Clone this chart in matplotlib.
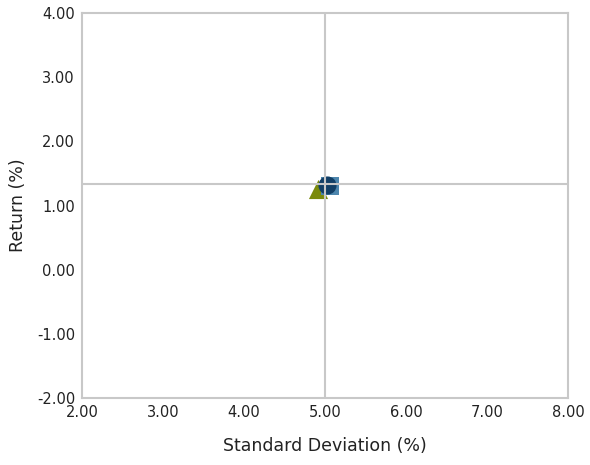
import matplotlib.pyplot as plt
import numpy as np

# crosshair (mean std dev / mean return)
cross_x = 5.00
cross_y = 1.33

# portfolio points
names = ["Square", "Circle", "Triangle"]
std_dev = [5.06, 5.02, 4.91]
returns = [1.30, 1.32, 1.26]
markers = ["s", "o", "^"]
colors = ["#4d86ad", "#123f66", "#7b8a0b"]
sizes = [160, 170, 190]

xticks = [2, 3, 4, 5, 6, 7, 8]
yticks = [-2, -1, 0, 1, 2, 3, 4]

plt.rcParams['font.family'] = ['DejaVu Sans']

fig = plt.figure(figsize=(5.9, 4.65), dpi=100)
ax = fig.add_axes([82 / 590, 67 / 465, 486 / 590, 385 / 465])

ax.axvline(cross_x, color="#c8c8c8", lw=1.5, zorder=6)
ax.axhline(cross_y, color="#c8c8c8", lw=1.5, zorder=6)

zorders = [3, 4, 2]
for i in range(len(names)):
    ax.scatter(std_dev[i], returns[i], marker=markers[i], s=sizes[i],
               color=colors[i], linewidths=0, zorder=zorders[i])

ax.set_xlim(2, 8)
ax.set_ylim(-2, 4)
ax.set_xticks(xticks)
ax.set_yticks(yticks)
ax.set_xticklabels([f"{v:.2f}" for v in xticks])
ax.set_yticklabels([f"{v:.2f}" for v in yticks])
ax.tick_params(length=0, labelsize=10.5, colors="#222222", pad=5)
for s in ax.spines.values():
    s.set_color("#c8c8c8")
    s.set_linewidth(1.5)

ax.set_xlabel("Standard Deviation (%)", fontsize=12.5, color="#222222", labelpad=12)
ax.set_ylabel("Return (%)", fontsize=12.5, color="#222222", labelpad=7)

fig.savefig("out.png")
